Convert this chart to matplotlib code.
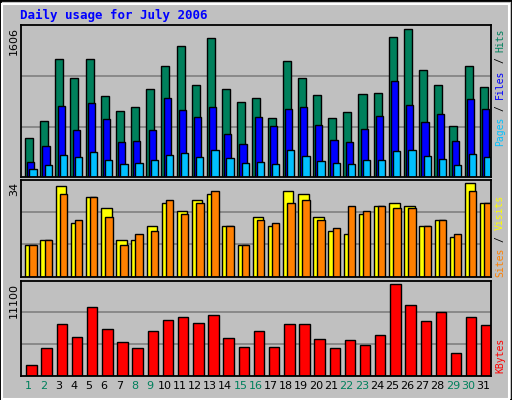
import numpy as np
import matplotlib.pyplot as plt
from matplotlib.patches import Rectangle

days = np.arange(1, 32)
hits = [412, 592, 1247, 1046, 1247, 856, 697, 740, 930, 1173, 1384, 972, 1469, 930, 792, 835,
        623, 1226, 1046, 866, 623, 687, 877, 888, 1479, 1564, 1131, 972, 539, 1173, 951]
files = [159, 328, 750, 497, 782, 613, 370, 380, 497, 835, 708, 634, 740, 454, 349, 634,
         539, 719, 740, 549, 391, 370, 507, 644, 1014, 761, 581, 666, 380, 824, 719]
pages = [85, 127, 232, 211, 264, 180, 137, 148, 180, 232, 254, 211, 285, 201, 148, 158,
         137, 285, 222, 169, 148, 137, 180, 180, 275, 285, 222, 190, 127, 243, 211]
visits = [11, 13, 32, 19, 28, 24, 13, 13, 18, 26, 23, 27, 29, 18, 11, 21,
          18, 30, 29, 21, 16, 15, 22, 25, 26, 25, 18, 20, 14, 33, 26]
sites = [11, 13, 29, 20, 28, 21, 11, 15, 16, 27, 22, 26, 30, 18, 11, 20,
         19, 26, 27, 20, 17, 25, 23, 25, 24, 24, 18, 20, 15, 30, 26]
kbytes = [1207, 3194, 5998, 4479, 7985, 5414, 3895, 3194, 5180, 6466, 6816, 6115, 7050, 4362, 3311, 5180,
          3311, 5998, 5998, 4246, 3194, 4129, 3544, 4713, 10672, 8218, 6349, 7400, 2610, 6816, 5881]
weekend = [1, 2, 8, 9, 15, 16, 22, 23, 29, 30]
max_hits, max_sites, max_kb = 1606, 34, 11100

BG = "#c0c0c0"
GREEN = "#00805c"
MONO = "DejaVu Sans Mono"
W, H = 512, 400

fig = plt.figure(figsize=(5.12, 4.0), dpi=100, facecolor=BG)
fig.patches.append(Rectangle((0, 0), 1, 1, transform=fig.transFigure, fill=False,
                             edgecolor="black", lw=2))
fig.patches.append(Rectangle((1.5 / W, 1.5 / H), 1 - 5 / W, 1 - 5 / H, transform=fig.transFigure,
                             fill=False, edgecolor="white", lw=1.5))


def px_axes(x0, y0, x1, y1):
    return fig.add_axes([x0 / W, 1 - y1 / H, (x1 - x0) / W, (y1 - y0) / H])


def style(ax, ymax):
    ax.set_facecolor(BG)
    ax.set_xlim(0.5, 31.5)
    ax.set_ylim(0, ymax * 1.0)
    for g in (ymax / 3, 2 * ymax / 3):
        ax.axhline(g, color="#808080", lw=1.2, zorder=0)
    ax.set_xticks([])
    ax.set_yticks([])
    for s in ax.spines.values():
        s.set_color("black")
        s.set_linewidth(1.3)


ek = dict(edgecolor="black", linewidth=1, align="edge")

ax1 = px_axes(20.7, 25, 490.7, 177.3)
style(ax1, max_hits)
ax1.bar(days - 0.22, hits, width=0.53, color=GREEN, **ek)
ax1.bar(days - 0.07, files, width=0.47, color="#0000ff", **ek)
ax1.bar(days + 0.07, pages, width=0.48, color="#00c0ff", **ek)

ax2 = px_axes(20.7, 180, 490.7, 276.7)
style(ax2, max_sites)
ax2.bar(days - 0.2, visits, width=0.69, color="#ffff00", **ek)
ax2.bar(days + 0.07, sites, width=0.49, color="#ff8000", **ek)

ax3 = px_axes(20.7, 280.7, 490.7, 375.7)
style(ax3, max_kb)
ax3.bar(days - 0.13, kbytes, width=0.69, color="#ff0000", **ek)

for d in days:
    ax3.text(d, -0.06, str(d), transform=ax3.get_xaxis_transform(), ha="center", va="top",
             fontsize=8, family="DejaVu Sans", color=GREEN if d in weekend else "black")

fig.text(20 / W, 1 - 15 / H, "Daily usage for July 2006", color="#0000ff", fontsize=9,
         family=MONO, fontweight="bold", va="center", ha="left")

for txt, ytop in (("1606", 27), ("34", 182), ("11100", 283)):
    fig.text(14 / W, 1 - ytop / H, txt, rotation=90, ha="center", va="top",
             fontsize=8, family="DejaVu Sans")


def side_label(parts, ytop, x=500):
    step = 5.9
    y = ytop
    for txt, col in parts:
        t = txt.strip()
        lead = len(txt) - len(txt.lstrip())
        fig.text(x / W, 1 - (y + lead * step) / H, t, rotation=90, ha="center", va="top",
                 fontsize=7, family=MONO, color=col)
        y += step * len(txt)


side_label([("Hits", GREEN), (" / ", "black"), ("Files", "#0000ff"), (" / ", "black"),
            ("Pages", "#00c0ff")], 28)
side_label([("Visits", "#ffff00"), (" / ", "black"), ("Sites", "#ff8000")], 195)
side_label([("KBytes", "#ff0000")], 338)

fig.savefig("out.png", dpi=100, facecolor=BG)
